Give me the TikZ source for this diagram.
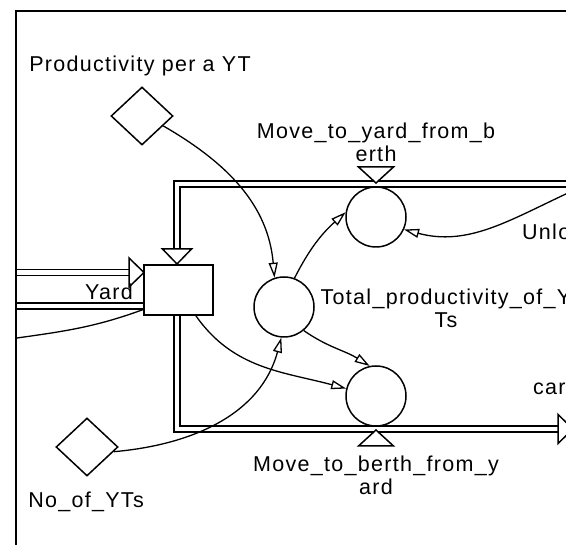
\documentclass[tikz,border=0pt]{standalone}
\usepackage{fontspec}
\setmainfont{Liberation Sans}[LetterSpace=6]
\usepackage{tikz}
\usetikzlibrary{arrows.meta,shapes.geometric}

\tikzset{
  lbl/.style={inner sep=0pt, font=\fontsize{21.5}{23}\selectfont},
  stock/.style={draw, line width=1.5pt, fill=white, minimum width=69pt, minimum height=50pt, inner sep=0pt},
  valve/.style={draw, line width=1.5pt, circle, fill=white, minimum size=60pt, inner sep=0pt},
  aux/.style={draw, line width=1.5pt, circle, fill=white, minimum size=60pt, inner sep=0pt},
  const/.style={draw, line width=1.5pt, diamond, minimum width=62pt, minimum height=58pt, inner sep=0pt},
  pipe/.style={double, double distance=4.3pt, line width=1.6pt},
  link/.style={line width=1.3pt, -{Triangle[open, length=15pt, width=9pt, line width=1.3pt]}},
  flowhead/.pic={\draw[fill=white, line width=1.5pt] (0,-14.5) -- (15,0) -- (0,14.5) -- cycle;},
  valvehead/.pic={\draw[fill=white, line width=1.5pt] (0,-17.5) -- (16,0) -- (0,17.5) -- cycle;}
}

\begin{document}
\begin{tikzpicture}[x=1pt, y=-1pt]
  \useasboundingbox (0,0) rectangle (566,545);
  \clip (0,0) rectangle (566,545);

  % flow ends
  \coordinate (insrc) at (17,272.5);
  \coordinate (inhead) at (129,272.5);
  \coordinate (outsnk) at (17,306);
  \coordinate (topsrc) at (570,184);
  \coordinate (tophead) at (177,249);
  \coordinate (botsnk) at (558,429);
  \coordinate (unlsrc) at (568,193);
  \coordinate (leftsnk) at (17,338);

  % pipes
  \draw[pipe] (insrc) -- (inhead);
  \draw[pipe] (144,306) -- (outsnk);
  \draw[pipe] (topsrc) -| (tophead);
  \draw[pipe] (177,315) |- (botsnk);
  \pic at (inhead) {flowhead};
  \pic[rotate=-90] at (tophead) {flowhead};
  \pic at (botsnk) {flowhead};

  \node[stock] (yard) at (178.5,290) {};
  \node[valve] (tobyard) at (376,217) {};
  \node[valve] (toberth) at (376,396) {};
  \node[aux] (totalprod) at (284,307) {};
  \node[const] (prodyt) at (142,116) {};
  \node[const] (noyt) at (87,447) {};
  \pic[rotate=-90] at (376,167) {valvehead};
  \pic[rotate=90] at (376,446) {valvehead};

  % labels
  \node[lbl, anchor=base] (prodytlbl) at (140,72) {Productivity per a YT};
  \node[lbl, anchor=base] (noytlbl) at (86,508) {No\_of\_YTs};
  \node[lbl, anchor=base east] (yardlbl) at (133,300) {Yard};
  \node[lbl, anchor=base, align=center] (tobyardlbl) at (376,162) {Move\_to\_yard\_from\_b\\erth};
  \node[lbl, anchor=base, align=center] (toberthlbl) at (376,495) {Move\_to\_berth\_from\_y\\ard};
  \node[lbl, anchor=base, align=center] (totalprodlbl) at (446,328) {Total\_productivity\_of\_Y\\Ts};
  \node[lbl, anchor=base west] (unllbl) at (522,240) {Unlo};
  \node[lbl, anchor=base west] (carlbl) at (533,395) {car};

  % links
  \draw[link] (prodyt.-25) to[out=-30, in=95] (totalprod.108);
  \draw[link] (yard.-56) to[out=-55, in=165] (toberth.166);
  \draw[link] (totalprod.70) to[out=63, in=222] (tobyard.171);
  \draw[link] (totalprod.-50) to[out=-35, in=148] (toberth.102);
  \draw[link] (noyt.-10) to[out=5, in=-105] (totalprod.-95);
  \draw[link] (unlsrc) to[out=205, in=-15] (tobyard.-24);
  \draw[line width=1.3pt] (yard.209) to[out=200, in=8] (leftsnk);

  % frame
  \draw[line width=1.6pt] (16,545) -- (16,11) -- (566,11);
\end{tikzpicture}
\end{document}
